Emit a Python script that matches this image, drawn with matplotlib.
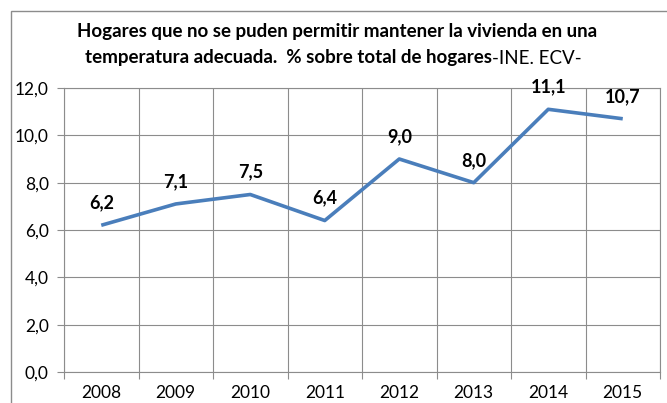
import matplotlib
matplotlib.use('Agg')
import matplotlib.pyplot as plt
from matplotlib.patches import Rectangle

# Data
years = ['2008', '2009', '2010', '2011', '2012', '2013', '2014', '2015']
values = [6.2, 7.1, 7.5, 6.4, 9.0, 8.0, 11.1, 10.7]
yticks = [0, 2, 4, 6, 8, 10, 12]

title_line1 = 'Hogares que no se puden permitir mantener la vivienda en una'
title_bold2 = 'temperatura adecuada.  % sobre total de hogares'
title_plain2 = '-INE. ECV-'

font = 'Lato'
line_color = '#4a7ebb'
grid_color = '#8c8c8c'

fig = plt.figure(figsize=(6.67, 4.03), dpi=100)
ax = fig.add_axes([64 / 667, 31 / 403, 596 / 667, 284 / 403])

x = list(range(len(years)))
ax.plot(x, values, color=line_color, linewidth=2.6, solid_capstyle='butt')

for xi, v in zip(x, values):
    ax.annotate('{:.1f}'.format(v).replace('.', ','), (xi, v), xytext=(0, 10),
                textcoords='offset points', ha='center', va='bottom',
                fontsize=13, fontweight='bold', family=font, color='black')

ax.set_xlim(-0.5, len(years) - 0.5)
ax.set_ylim(0, 12)
ax.set_yticks(yticks)
ax.set_yticklabels(['{:.1f}'.format(t).replace('.', ',') for t in yticks],
                   fontsize=12.5, family=font)
ax.set_xticks(x)
ax.set_xticklabels(years, fontsize=12.5, family=font)
ax.set_xticks([i - 0.5 for i in range(len(years) + 1)], minor=True)

ax.tick_params(axis='x', which='major', length=0, pad=9)
ax.tick_params(axis='x', which='minor', length=5, color=grid_color, width=0.8)
ax.tick_params(axis='y', length=5, color=grid_color, width=0.8, pad=6)

ax.grid(axis='y', which='major', color=grid_color, linewidth=0.8)
ax.grid(axis='x', which='minor', color=grid_color, linewidth=0.8)
ax.set_axisbelow(True)
for s in ax.spines.values():
    s.set_color(grid_color)
    s.set_linewidth(0.8)

# Title: first line bold, second line bold with a plain tail
fig.text(337 / 667, 1 - 32 / 403, title_line1, ha='center', va='center',
         fontsize=13.5, fontweight='bold', family=font)
t1 = fig.text(0, 1 - 58 / 403, title_bold2, ha='left', va='center',
              fontsize=13.5, fontweight='bold', family=font)
t2 = fig.text(0, 1 - 58 / 403, title_plain2, ha='left', va='center',
              fontsize=13.5, family=font)
r = fig.canvas.get_renderer()
w1 = t1.get_window_extent(r).width
w2 = t2.get_window_extent(r).width
start = 333 - (w1 + w2) / 2
t1.set_x(start / 667)
t2.set_x((start + w1) / 667)

# Outer chart border (runs off the image to the right and bottom)
fig.patches.append(Rectangle((11 / 667, -0.1), 1.0, 1.1 - 11 / 403,
                             transform=fig.transFigure, fill=False,
                             edgecolor='#8c8c8c', linewidth=1.0))

fig.savefig('out.png', dpi=100)
